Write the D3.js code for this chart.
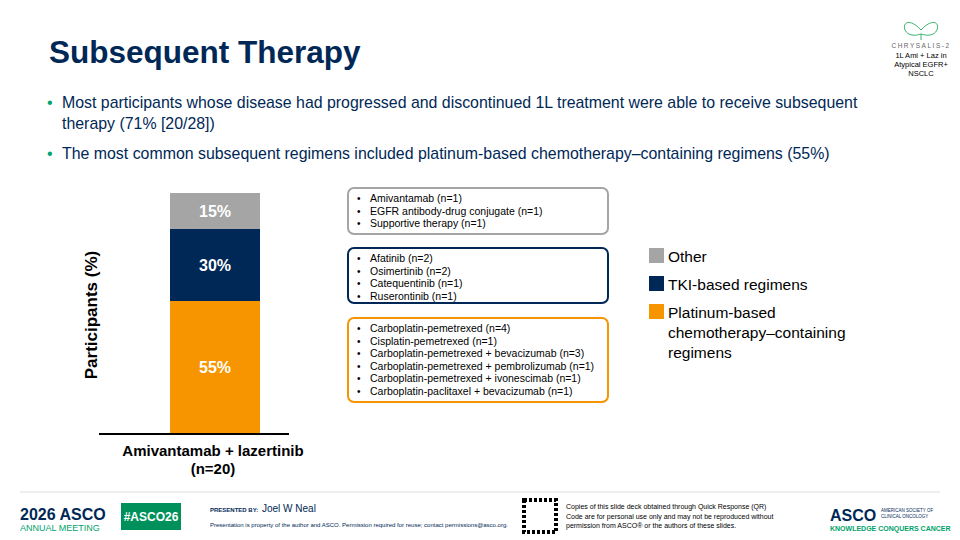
<!DOCTYPE html>
<html><head><meta charset="utf-8">
<script src="https://cdn.jsdelivr.net/npm/d3@7"></script>
<style>body{margin:0;background:#fff;font-family:Arial,"Liberation Sans",sans-serif}</style>
</head><body>
<svg id="c" width="960" height="540"></svg>
<script>
"use strict";
const categories = ["Platinum-based chemotherapy\u2013containing regimens", "TKI-based regimens", "Other"];
const values = [55, 30, 15];
const colors = ["#f79500", "#002856", "#a5a5a5"];
const legendLines = [["Platinum-based", "chemotherapy\u2013containing", "regimens"], ["TKI-based regimens"], ["Other"]];
const regimens = [
  ["Carboplatin-pemetrexed (n=4)", "Cisplatin-pemetrexed (n=1)", "Carboplatin-pemetrexed + bevacizumab (n=3)",
   "Carboplatin-pemetrexed + pembrolizumab (n=1)", "Carboplatin-pemetrexed + ivonescimab (n=1)", "Carboplatin-paclitaxel + bevacizumab (n=1)"],
  ["Afatinib (n=2)", "Osimertinib (n=2)", "Catequentinib (n=1)", "Ruserontinib (n=1)"],
  ["Amivantamab (n=1)", "EGFR antibody-drug conjugate (n=1)", "Supportive therapy (n=1)"]
];
const boxY = [318, 248, 188];
const boxH = [84, 55, 46];

const svg = d3.select("#c");
const navy = "#002856";

// title + bullets
svg.append("text").attr("x", 49).attr("y", 63).attr("font-size", 31.5).attr("font-weight", "bold").attr("fill", navy).text("Subsequent Therapy");
const bullets = [[103, "Most participants whose disease had progressed and discontinued 1L treatment were able to receive subsequent"],
                 [124, "therapy (71% [20/28])", true], [154, "The most common subsequent regimens included platinum-based chemotherapy\u2013containing regimens (55%)"]];
bullets.forEach(([y, t, cont]) => {
  if (!cont) svg.append("text").attr("x", 47).attr("y", y + 5).attr("font-size", 16).attr("fill", "#00a36c").text("\u2022");
  svg.append("text").attr("x", 62).attr("y", y + 5).attr("font-size", 15.9).attr("fill", navy).text(t);
});

// top-right badge
const bx = 921;
svg.append("path").attr("d", "M921,30 C910,18 902,22 905,30 C908,36 915,36 921,34 C927,36 934,36 937,30 C940,22 932,18 921,30 Z M921,34 L921,40")
  .attr("fill", "none").attr("stroke", "#3cb371").attr("stroke-width", 1);
svg.append("text").attr("x", bx).attr("y", 48).attr("text-anchor", "middle").attr("font-size", 6.5).attr("letter-spacing", 1.5).attr("fill", "#666").text("CHRYSALIS-2");
[["1L Ami + Laz in", 58], ["Atypical EGFR+", 67], ["NSCLC", 76]].forEach(([t, y]) =>
  svg.append("text").attr("x", bx).attr("y", y).attr("text-anchor", "middle").attr("font-size", 7.5).attr("fill", "#000").text(t));

// stacked bar
const y = d3.scaleLinear().domain([0, 100]).range([433, 193]);
let cum = 0;
const stack = values.map((v, i) => { const s = {v, i, y0: cum, y1: cum + v}; cum += v; return s; });
const xb = 170, wb = 90;
svg.selectAll("rect.bar").data(stack).join("rect").attr("x", xb).attr("width", wb)
  .attr("y", d => y(d.y1)).attr("height", d => y(d.y0) - y(d.y1)).attr("fill", d => colors[d.i]);
svg.selectAll("text.lab").data(stack).join("text").attr("x", xb + wb / 2).attr("y", d => (y(d.y0) + y(d.y1)) / 2 + 6)
  .attr("text-anchor", "middle").attr("font-size", 16).attr("font-weight", "bold").attr("fill", "#fff").text(d => d.v + "%");
svg.append("line").attr("x1", 99).attr("x2", 289).attr("y1", 434).attr("y2", 434).attr("stroke", "#000").attr("stroke-width", 2);
svg.append("text").attr("x", 213).attr("y", 456).attr("text-anchor", "middle").attr("font-size", 15).attr("font-weight", "bold").attr("fill", "#000").text("Amivantamab + lazertinib");
svg.append("text").attr("x", 213).attr("y", 474).attr("text-anchor", "middle").attr("font-size", 15).attr("font-weight", "bold").attr("fill", "#000").text("(n=20)");
svg.append("text").attr("transform", "translate(97,315) rotate(-90)").attr("text-anchor", "middle").attr("font-size", 17).attr("font-weight", "bold").attr("fill", "#000").text("Participants (%)");

// regimen boxes
regimens.forEach((list, i) => {
  svg.append("rect").attr("x", 348).attr("y", boxY[i]).attr("width", 260).attr("height", boxH[i]).attr("rx", 6)
    .attr("fill", "#fff").attr("stroke", colors[i]).attr("stroke-width", 2);
  list.forEach((t, j) => {
    const ty = boxY[i] + 14 + j * 12.5;
    svg.append("text").attr("x", 357).attr("y", ty).attr("font-size", 10).attr("fill", "#000").text("\u2022");
    svg.append("text").attr("x", 370).attr("y", ty).attr("font-size", 10.5).attr("fill", "#000").text(t);
  });
});

// legend
const legY = [312, 284, 256];
legendLines.forEach((ls, i) => {
  svg.append("rect").attr("x", 649).attr("y", legY[i] - 8).attr("width", 15).attr("height", 15).attr("fill", colors[i]);
  ls.forEach((t, j) => svg.append("text").attr("x", 668).attr("y", legY[i] + 6 + j * 20).attr("font-size", 15.5).attr("fill", "#000").text(t));
});

// footer
svg.append("line").attr("x1", 20).attr("x2", 940).attr("y1", 492).attr("y2", 492).attr("stroke", "#ddd");
svg.append("text").attr("x", 20).attr("y", 520).attr("font-size", 16).attr("font-weight", "bold").attr("fill", navy).text("2026 ASCO");
svg.append("text").attr("x", 20).attr("y", 531).attr("font-size", 9).attr("fill", "#00a36c").text("ANNUAL MEETING");
svg.append("rect").attr("x", 121).attr("y", 503).attr("width", 60).attr("height", 27).attr("fill", "#00905c");
svg.append("text").attr("x", 151).attr("y", 521).attr("text-anchor", "middle").attr("font-size", 12).attr("font-weight", "bold").attr("fill", "#fff").text("#ASCO26");
svg.append("text").attr("x", 210).attr("y", 512).attr("font-size", 6).attr("font-weight", "bold").attr("fill", navy).text("PRESENTED BY:");
svg.append("text").attr("x", 262).attr("y", 512).attr("font-size", 10).attr("fill", navy).text("Joel W Neal");
svg.append("text").attr("x", 210).attr("y", 527).attr("font-size", 6).attr("fill", navy).text("Presentation is property of the author and ASCO. Permission required for reuse; contact permissions@asco.org.");
svg.append("rect").attr("x", 524).attr("y", 500).attr("width", 32).attr("height", 32).attr("fill", "none").attr("stroke", "#000").attr("stroke-width", 4).attr("stroke-dasharray", "3 2");
["Copies of this slide deck obtained through Quick Response (QR)", "Code are for personal use only and may not be reproduced without", "permission from ASCO\u00ae or the authors of these slides."]
  .forEach((t, j) => svg.append("text").attr("x", 566).attr("y", 509 + j * 9.5).attr("font-size", 7).attr("fill", "#000").text(t));
svg.append("text").attr("x", 830).attr("y", 521).attr("font-size", 16).attr("font-weight", "bold").attr("fill", navy).text("ASCO");
svg.append("text").attr("x", 881).attr("y", 512).attr("font-size", 4.5).attr("fill", navy).text("AMERICAN SOCIETY OF");
svg.append("text").attr("x", 881).attr("y", 518).attr("font-size", 4.5).attr("fill", navy).text("CLINICAL ONCOLOGY");
svg.append("text").attr("x", 830).attr("y", 531).attr("font-size", 7).attr("font-weight", "bold").attr("fill", "#00a36c").text("KNOWLEDGE CONQUERS CANCER");
</script>
</body></html>
